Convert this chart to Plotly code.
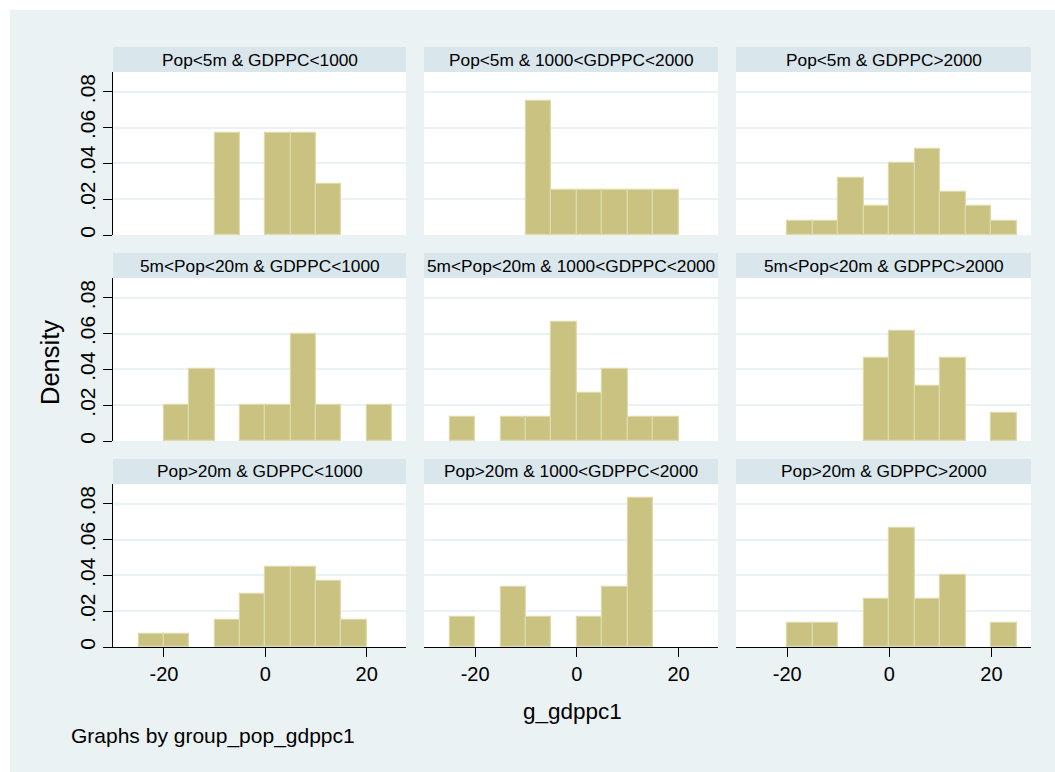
import plotly.graph_objects as go

# Histogram of g_gdppc1 by population / GDP-per-capita group (bin width 5)
bin_left = [-25, -20, -15, -10, -5, 0, 5, 10, 15, 20]
bin_width = 5

panel_titles = [
    "Pop<5m & GDPPC<1000",
    "Pop<5m & 1000<GDPPC<2000",
    "Pop<5m & GDPPC>2000",
    "5m<Pop<20m & GDPPC<1000",
    "5m<Pop<20m & 1000<GDPPC<2000",
    "5m<Pop<20m & GDPPC>2000",
    "Pop>20m & GDPPC<1000",
    "Pop>20m & 1000<GDPPC<2000",
    "Pop>20m & GDPPC>2000",
]

# observations per bin, one list per group
counts_pop5_low = [0, 0, 0, 2, 0, 2, 2, 1, 0, 0]
counts_pop5_mid = [0, 0, 0, 3, 1, 1, 1, 1, 1, 0]
counts_pop5_high = [0, 1, 1, 4, 2, 5, 6, 3, 2, 1]
counts_pop20_low = [0, 1, 2, 0, 1, 1, 3, 1, 0, 1]
counts_pop20_mid = [1, 0, 1, 1, 5, 2, 3, 1, 1, 0]
counts_pop20_high = [0, 0, 0, 0, 3, 4, 2, 3, 0, 1]
counts_big_low = [1, 1, 0, 2, 4, 6, 6, 5, 2, 0]
counts_big_mid = [1, 0, 2, 1, 0, 1, 2, 5, 0, 0]
counts_big_high = [0, 1, 1, 0, 2, 5, 2, 3, 0, 1]

panel_counts = [
    counts_pop5_low, counts_pop5_mid, counts_pop5_high,
    counts_pop20_low, counts_pop20_mid, counts_pop20_high,
    counts_big_low, counts_big_mid, counts_big_high,
]

x_ticks = [-20, 0, 20]
x_tick_labels = ["-20", "0", "20"]
y_ticks = [0, 0.02, 0.04, 0.06, 0.08]
y_tick_labels = ["0", ".02", ".04", ".06", ".08"]

W, H = 1055, 772
BG = "#EAF2F3"
STRIP = "#D9E6EB"
BAR = "#C9C280"
BAR_LINE = "#DEDAAB"
FONT = "Liberation Sans"

col_px = [(113, 406), (424, 718), (736, 1031)]
row_top0, row_step, strip_h, plot_h = 47, 206, 25, 163


def px_x(x):
    return x / W


def px_y(y):
    return 1 - y / H


fig = go.Figure()
# graph region is tinted; a thin white border runs along the top and left
shapes = [
    dict(type="rect", xref="paper", yref="paper",
         x0=-0.02, x1=px_x(10), y0=-0.02, y1=1.02,
         fillcolor="white", line=dict(width=0), layer="below"),
    dict(type="rect", xref="paper", yref="paper",
         x0=-0.02, x1=1.02, y0=px_y(10), y1=1.02,
         fillcolor="white", line=dict(width=0), layer="below"),
]
annotations = []

for i, (title, cnt) in enumerate(zip(panel_titles, panel_counts)):
    r, c = divmod(i, 3)
    n = sum(cnt)
    xs = [b + bin_width / 2 for b, k in zip(bin_left, cnt) if k > 0]
    ys = [k / (n * bin_width) for k in cnt if k > 0]
    suffix = "" if i == 0 else str(i + 1)
    fig.add_trace(go.Bar(
        x=xs, y=ys, width=bin_width,
        marker=dict(color=BAR, line=dict(color=BAR_LINE, width=1.2)),
        xaxis="x" + suffix, yaxis="y" + suffix, showlegend=False,
        hoverinfo="skip",
    ))

    x0p, x1p = col_px[c]
    strip_top = row_top0 + r * row_step
    plot_top = strip_top + strip_h
    plot_bot = plot_top + plot_h

    bottom_row = r == 2
    left_col = c == 0

    fig.layout["xaxis" + suffix] = dict(
        domain=[px_x(x0p), px_x(x1p)],
        anchor="y" + suffix,
        range=[-30.05, 27.75],
        tickvals=x_ticks, ticktext=x_tick_labels,
        showticklabels=bottom_row,
        ticks="outside" if bottom_row else "",
        ticklen=9, tickwidth=1.2, tickcolor="black",
        showline=bottom_row, linecolor="black", linewidth=1.2,
        showgrid=False, zeroline=False, automargin=False,
        tickfont=dict(family=FONT, size=20, color="black"),
        fixedrange=True,
    )
    fig.layout["yaxis" + suffix] = dict(
        domain=[px_y(plot_bot), px_y(plot_top)],
        anchor="x" + suffix,
        range=[0, 0.091],
        tickvals=y_ticks, ticktext=y_tick_labels,
        showticklabels=left_col,
        ticks="outside" if left_col else "",
        ticklen=9, tickwidth=1.2, tickcolor="black",
        tickangle=-90,
        showline=left_col, linecolor="black", linewidth=1.2,
        showgrid=True, gridcolor=BG, gridwidth=1.6,
        zeroline=False, automargin=False,
        tickfont=dict(family=FONT, size=21, color="black"),
        fixedrange=True,
    )

    # white plot region and title strip
    shapes.append(dict(type="rect", xref="paper", yref="paper",
                       x0=px_x(x0p), x1=px_x(x1p),
                       y0=px_y(plot_bot), y1=px_y(plot_top),
                       fillcolor="white", line=dict(width=0), layer="below"))
    shapes.append(dict(type="rect", xref="paper", yref="paper",
                       x0=px_x(x0p), x1=px_x(x1p),
                       y0=px_y(plot_top), y1=px_y(strip_top),
                       fillcolor=STRIP, line=dict(width=0), layer="below"))
    annotations.append(dict(
        text=title, xref="paper", yref="paper",
        x=px_x((x0p + x1p) / 2), y=px_y(strip_top + strip_h / 2),
        xanchor="center", yanchor="middle", showarrow=False,
        font=dict(family=FONT, size=17.3, color="black"),
    ))

annotations += [
    dict(text="Density", xref="paper", yref="paper",
         x=px_x(50), y=px_y(363), textangle=-90,
         xanchor="center", yanchor="middle", showarrow=False,
         font=dict(family=FONT, size=25.5, color="black")),
    dict(text="g_gdppc1", xref="paper", yref="paper",
         x=px_x(572), y=px_y(711),
         xanchor="center", yanchor="middle", showarrow=False,
         font=dict(family=FONT, size=22.5, color="black")),
    dict(text="Graphs by group_pop_gdppc1", xref="paper", yref="paper",
         x=px_x(69), y=px_y(736),
         xanchor="left", yanchor="middle", showarrow=False,
         font=dict(family=FONT, size=21, color="black")),
]

fig.update_layout(
    width=W, height=H, autosize=False,
    margin=dict(l=0, r=0, t=0, b=0, pad=0, autoexpand=False),
    paper_bgcolor=BG, plot_bgcolor="rgba(0,0,0,0)",
    shapes=shapes, annotations=annotations,
    bargap=0, showlegend=False,
)

fig.write_html("out.html", config={"displayModeBar": False})
